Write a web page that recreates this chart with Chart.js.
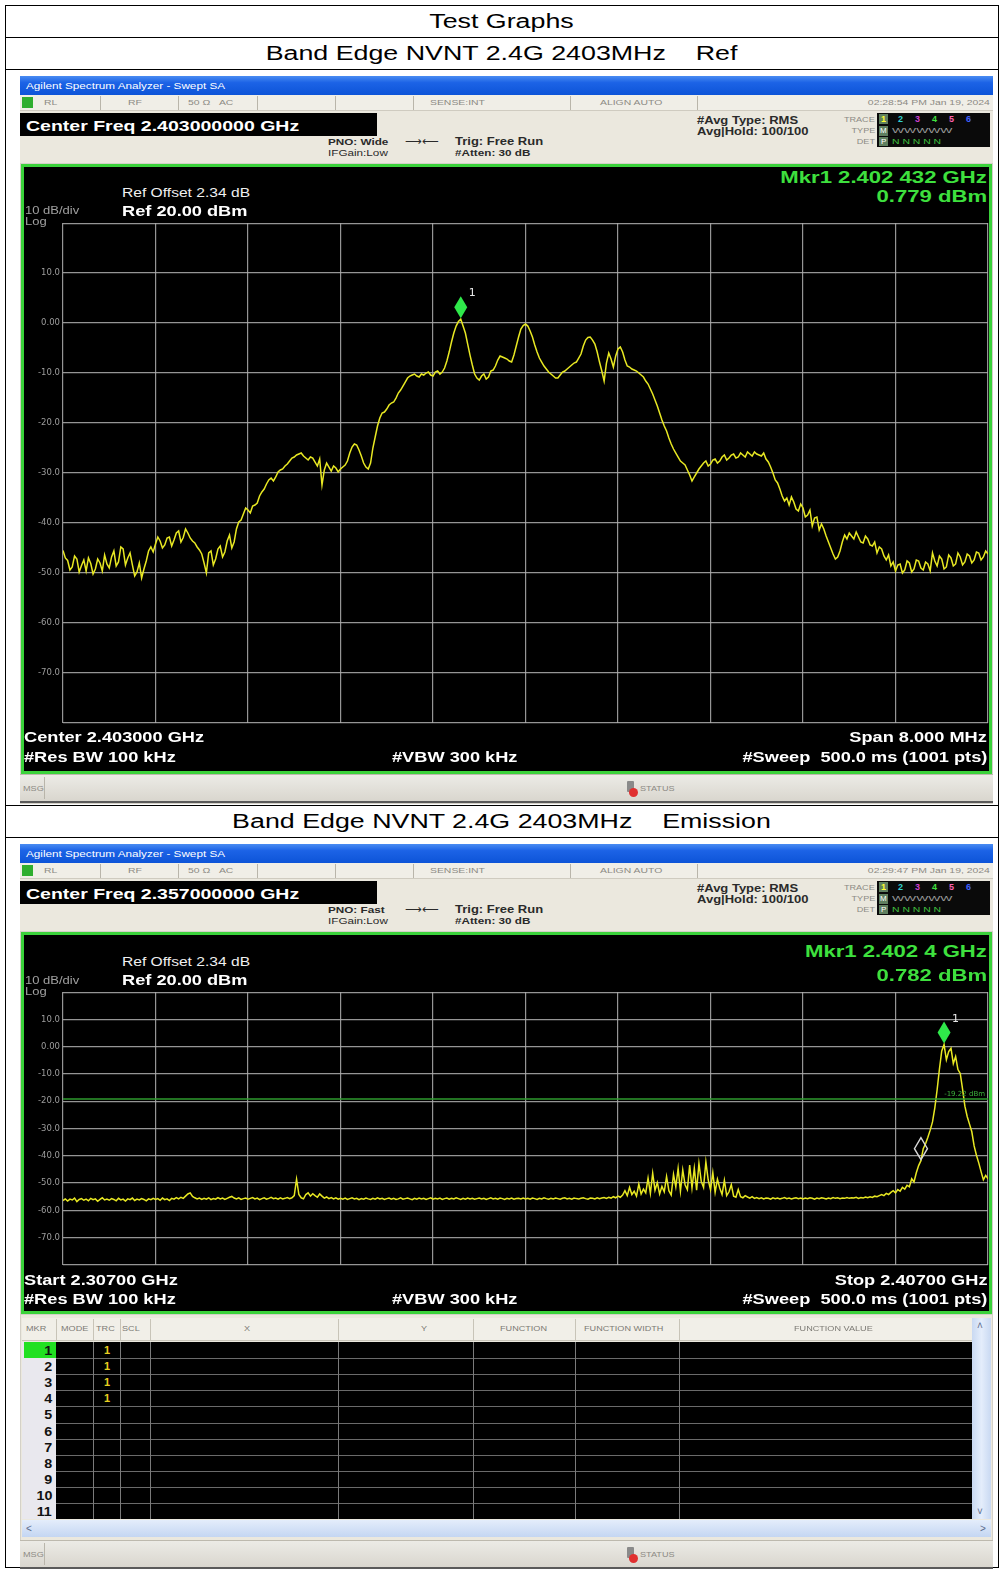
<!DOCTYPE html>
<html>
<head>
<meta charset="utf-8">
<title>Band Edge NVNT 2.4G 2403MHz</title>
<script src="https://cdn.jsdelivr.net/npm/chart.js@4.4.0/dist/chart.umd.min.js"></script>
<style>
  html, body { margin: 0; padding: 0; background: #fff; }
  #page { position: relative; width: 1003px; height: 1569px; overflow: hidden;
          font-family: 'Liberation Sans', Arial, sans-serif; }
  .t { position: absolute; white-space: pre; line-height: 1;
       transform: translateY(-50%) scaleX(var(--sx, 1.3)); transform-origin: left center; }
  .t.r { transform-origin: right center; }
  .t.c { left: 0; width: 1003px; text-align: center; transform-origin: center center; }
</style>
</head>
<body>
<div id="page"></div>
<script>
// ── Data ──────────────────────────────────────────────────────────────────────

// Ref sweep: 2399–2407 MHz, trace 1 (dBm)
const REF_START_MHZ = 2399;
const REF_STOP_MHZ = 2407;
const REF_LEVELS = [
  -45.5, -47.0, -47.5, -49.4, -48.8, -46.6, -47.2, -49.8, -48.5, -47.4, -49.6, -47.0, -48.1, -50.2, -49.2, -47.2, -48.0, -49.6, -46.4, -48.2,
  -49.0, -46.8, -45.6, -48.6, -47.8, -44.8, -45.2, -48.4, -47.0, -46.0, -48.4, -50.6, -49.8, -48.0, -51.0, -49.2, -47.6, -45.6, -44.8, -45.8,
  -44.2, -42.8, -43.6, -45.0, -44.4, -43.0, -42.8, -44.6, -43.4, -42.0, -41.6, -43.8, -42.9, -41.2, -42.0, -43.0, -43.6, -44.0, -44.8, -45.4,
  -46.2, -48.0, -50.0, -46.0, -45.6, -48.4, -47.2, -45.2, -44.6, -46.8, -45.8, -43.6, -42.4, -45.0, -43.8, -41.2, -39.8, -39.4, -38.2, -37.0,
  -37.4, -38.0, -36.6, -36.4, -36.0, -34.6, -33.8, -33.2, -32.2, -31.4, -31.0, -31.6, -30.8, -29.8, -29.4, -29.2, -28.6, -28.2, -27.6, -27.0,
  -26.8, -26.4, -26.2, -26.0, -26.6, -27.0, -27.4, -26.8, -27.0, -27.8, -28.6, -27.2, -32.4, -29.4, -28.0, -28.8, -29.6, -28.6, -29.0, -29.8,
  -29.2, -28.8, -28.4, -27.6, -26.0, -24.8, -24.2, -24.4, -25.4, -26.6, -28.0, -28.8, -29.2, -28.0, -25.0, -22.8, -20.6, -19.0, -18.0, -17.8,
  -17.2, -16.4, -16.0, -15.8, -15.0, -14.0, -13.4, -12.6, -11.8, -11.0, -10.6, -10.4, -10.2, -10.6, -10.8, -10.2, -10.4, -10.0, -9.8, -10.4,
  -10.6, -9.8, -9.6, -10.2, -9.8, -9.0, -7.6, -5.8, -3.8, -2.0, -0.6, 0.3, 0.779, -0.6, -2.0, -4.2, -6.4, -8.4, -10.2, -11.0,
  -11.4, -10.6, -10.2, -11.2, -10.8, -9.6, -9.4, -8.6, -7.4, -6.6, -6.8, -7.0, -7.2, -7.6, -7.8, -6.4, -4.6, -2.8, -1.2, -0.5,
  -0.2, -0.6, -1.6, -2.8, -4.4, -5.8, -7.0, -7.8, -8.6, -9.2, -9.8, -10.2, -10.6, -11.0, -11.0, -10.4, -9.8, -9.6, -9.2, -8.8,
  -8.4, -8.0, -7.8, -7.0, -6.2, -4.6, -3.4, -2.9, -2.8, -3.4, -4.2, -5.8, -7.8, -9.6, -11.6, -8.0, -6.0, -7.2, -8.8, -6.6,
  -5.2, -4.8, -5.8, -7.4, -8.6, -8.8, -9.2, -9.4, -9.6, -10.0, -10.4, -10.8, -11.6, -12.2, -13.2, -14.2, -15.4, -16.6, -18.0, -19.4,
  -20.6, -21.6, -23.0, -24.2, -25.2, -26.0, -26.8, -27.6, -28.0, -28.4, -29.4, -30.4, -31.6, -30.8, -30.0, -29.2, -28.6, -28.0, -27.6, -28.6,
  -28.2, -27.4, -27.2, -28.0, -27.6, -26.8, -26.4, -27.4, -27.0, -26.4, -26.2, -27.0, -26.8, -26.0, -26.4, -26.8, -25.8, -26.2, -26.6, -25.8,
  -26.2, -26.4, -26.6, -26.0, -27.2, -27.8, -28.8, -30.0, -31.4, -32.0, -33.2, -34.6, -35.6, -35.0, -36.4, -34.8, -35.8, -37.2, -37.6, -36.2,
  -37.0, -38.8, -38.4, -37.4, -40.6, -39.0, -38.8, -41.4, -40.2, -41.2, -42.6, -43.8, -45.0, -46.2, -47.2, -46.8, -45.6, -43.8, -42.4, -43.2,
  -42.0, -42.6, -43.2, -41.8, -42.8, -43.8, -44.0, -42.6, -43.2, -44.4, -44.6, -43.8, -46.0, -44.8, -45.2, -46.6, -47.4, -46.4, -48.6, -47.8,
  -49.6, -48.4, -48.2, -50.0, -49.4, -47.6, -48.0, -49.8, -49.2, -47.4, -47.6, -49.0, -49.4, -47.8, -48.2, -49.6, -46.0, -47.6, -48.6, -46.6,
  -47.2, -49.2, -48.8, -46.4, -47.0, -48.6, -48.2, -46.0, -46.8, -48.4, -47.8, -46.2, -46.6, -48.0, -47.4, -45.8, -46.0, -47.4, -46.8, -45.6,
  -46.2,
];
const REF_MARKER_IDX = [172];

// Emission sweep: 2307–2407 MHz, trace 1 (dBm)
const EMIS_START_MHZ = 2307;
const EMIS_STOP_MHZ = 2407;
const EMIS_LEVELS = [
  -56.4, -55.8, -56.6, -55.9, -56.2, -55.5, -56.8, -56.0, -55.7, -56.3, -55.9, -56.5, -55.6, -56.1, -55.8, -56.7, -56.0, -55.4, -56.2, -55.9,
  -56.3, -55.7, -56.0, -56.5, -55.6, -56.2, -55.9, -56.6, -55.8, -56.1, -55.5, -56.4, -55.9, -56.2, -55.7, -56.0, -56.5, -55.8, -56.1, -55.6,
  -56.0, -55.7, -56.3, -55.5, -56.1, -55.8, -56.4, -55.6, -55.9, -55.3, -55.8, -55.2, -55.6, -54.8, -54.0, -53.6, -54.9, -55.4, -55.8, -55.5,
  -56.0, -55.6, -55.9, -55.4, -56.1, -55.7, -55.9, -55.3, -55.8, -55.5, -56.0, -55.6, -55.2, -54.9, -55.5, -55.8, -55.4, -56.0, -55.7, -55.5,
  -55.9, -55.6, -55.3, -55.8, -55.5, -56.1, -55.7, -55.4, -55.9, -55.6, -55.2, -55.7, -55.5, -55.9, -55.4, -55.8, -55.6, -55.3, -55.7, -55.4,
  -54.6, -48.6, -54.2, -55.4, -55.8, -54.2, -53.6, -54.8, -53.9, -54.6, -55.2, -54.0, -54.8, -55.5, -55.1, -55.7, -55.3, -55.8, -55.4, -55.9,
  -55.6, -55.9, -55.5, -56.0, -55.7, -55.4, -55.8, -55.6, -56.1, -55.7, -55.9, -55.5, -55.8, -56.0, -55.6, -55.9, -55.4, -55.8, -55.6, -56.0,
  -55.7, -55.5, -55.9, -55.6, -56.0, -55.8, -55.4, -55.9, -55.7, -55.5, -55.8, -56.1, -55.6, -55.9, -55.5, -55.8, -55.6, -56.0, -55.7, -55.4,
  -55.9, -55.6, -55.8, -55.5, -56.0, -55.7, -55.5, -55.9, -55.6, -55.8, -55.4, -55.7, -56.0, -55.6, -55.9, -55.5, -55.8, -55.6, -55.9, -55.7,
  -55.5, -55.8, -55.6, -56.0, -55.7, -55.4, -55.8, -55.6, -55.9, -55.5, -55.7, -56.0, -55.6, -55.8, -55.5, -55.9, -55.7, -55.6, -55.8, -55.5,
  -55.8, -55.6, -55.9, -55.5, -55.7, -56.0, -55.6, -55.8, -55.4, -55.7, -55.9, -55.6, -55.8, -55.5, -55.7, -55.9, -55.6, -55.4, -55.8, -55.6,
  -55.9, -55.5, -55.7, -55.8, -55.6, -55.4, -55.7, -55.9, -55.5, -55.6, -55.8, -55.4, -55.7, -55.5, -55.3, -55.6, -55.2, -55.5, -55.0, -55.4,
  -54.8, -55.2, -54.4, -52.8, -54.6, -51.6, -54.2, -53.0, -54.8, -50.4, -54.0, -52.2, -53.6, -48.2, -53.8, -46.4, -52.6, -49.8, -54.0, -51.2,
  -53.2, -47.6, -52.8, -54.4, -46.8, -51.4, -44.6, -53.0, -45.2, -50.6, -52.4, -43.4, -51.8, -44.6, -52.6, -42.8, -49.4, -51.6, -42.2, -48.8,
  -52.4, -46.2, -53.4, -48.6, -51.8, -54.2, -49.0, -54.6, -53.2, -50.6, -54.8, -55.2, -52.4, -55.0, -55.4, -54.6, -55.1, -55.5, -55.0, -55.6,
  -55.3, -55.7, -55.4, -55.8, -55.5, -55.6, -55.9, -55.4, -55.7, -55.5, -55.8, -55.6, -55.3, -55.7, -55.5, -55.8, -55.6, -55.4, -55.7, -55.5,
  -55.8, -55.5, -55.7, -55.4, -55.6, -55.9, -55.5, -55.7, -55.4, -55.6, -55.8, -55.5, -55.7, -55.3, -55.6, -55.4, -55.7, -55.5, -55.6, -55.3,
  -55.6, -55.4, -55.5, -55.2, -55.6, -55.3, -55.5, -55.1, -55.4, -55.0, -55.3, -54.8, -55.0, -54.6, -54.2, -54.6, -53.8, -54.2, -53.4, -52.8,
  -53.6, -52.4, -53.0, -51.6, -52.2, -50.8, -51.4, -48.4, -49.6, -46.2, -43.6, -41.8, -37.4, -35.6, -33.2, -30.6, -27.6, -22.4, -15.8, -8.2,
  -1.6, 0.782, -4.8, -1.8, -0.6, -6.2, -3.6, -8.4, -9.8, -15.6, -21.8, -25.6, -28.4, -31.2, -36.4, -39.8, -42.6, -45.8, -48.8, -47.2, -48.4,
];
const EMIS_MARKER_IDX = [381, 371];
const EMIS_DISPLAY_LINE = -19.22;

// Amplitude axis (Ref 20 dBm, 10 dB/div)
const Y_TICKS = [-80, -70, -60, -50, -40, -30, -20, -10, 0, 10, 20];
const Y_TICK_LABELS = ['', '-70.0', '-60.0', '-50.0', '-40.0', '-30.0', '-20.0', '-10.0', '0.00', '10.0', ''];
const X_DIVS = 10;

// Marker table rows
const MKR_ROWS = ['1', '2', '3', '4', '5', '6', '7', '8', '9', '10', '11'];
const MKR_TRACE = ['1', '1', '1', '1', '', '', '', '', '', '', ''];

// ── Helpers ───────────────────────────────────────────────────────────────────

const page = document.getElementById('page');
const W = 1003;

function box(x, y, w, h, css) {
  const d = document.createElement('div');
  d.style.cssText = `position:absolute;left:${x}px;top:${y}px;width:${w}px;height:${h}px;box-sizing:border-box;` + (css || '');
  page.appendChild(d);
  return d;
}

function text(str, x, cy, size, color, o = {}) {
  const d = document.createElement('div');
  d.className = 't' + (o.align === 'right' ? ' r' : o.align === 'center' ? ' c' : '');
  d.textContent = str;
  d.style.fontSize = size + 'px';
  d.style.color = color;
  d.style.top = cy + 'px';
  if (o.bold) d.style.fontWeight = 'bold';
  if (o.family) d.style.fontFamily = o.family;
  if (o.align === 'right') d.style.right = (W - x) + 'px';
  else if (o.align !== 'center') d.style.left = x + 'px';
  if (o.sx) d.style.setProperty('--sx', o.sx);
  page.appendChild(d);
  return d;
}

function sweepPoints(levels, start, stop) {
  const step = (stop - start) / (levels.length - 1);
  return levels.map((v, i) => ({ x: start + i * step, y: v }));
}

// ── Table frame ───────────────────────────────────────────────────────────────

const LINE = 'background:#000;';
box(5, 5, 994, 1, LINE);
box(5, 37, 994, 1, LINE);
box(5, 69, 994, 1, LINE);
box(5, 805, 994, 1, LINE);
box(5, 837, 994, 1, LINE);
box(5, 1567, 994, 1, LINE);
box(5, 5, 1, 1563, LINE);
box(998, 5, 1, 1563, LINE);

text('Test Graphs', 0, 21, 20, '#000', { align: 'center', sx: 1.34 });
text('Band Edge NVNT 2.4G 2403MHz    Ref', 0, 53, 20, '#000', { align: 'center', sx: 1.34 });
text('Band Edge NVNT 2.4G 2403MHz    Emission', 0, 821, 20, '#000', { align: 'center', sx: 1.34 });

// ── Analyzer chrome ───────────────────────────────────────────────────────────

const GRAY_TXT = '#8c8a84';
const DARK_TXT = '#2a2a2a';
const GREEN = '#3ee03e';

function header(T, cf, pno, time) {
  box(20, T, 973, 19, 'background:linear-gradient(#4a8cf2,#1c63e6 35%,#0d54d8);');
  text('Agilent Spectrum Analyzer - Swept SA', 26, T + 10, 9, '#fff');

  box(20, T + 19, 973, 70, 'background:#ebe8de;');
  box(20, T + 19, 973, 16, 'background:#f0eee7;border-bottom:1px solid #cfcbc0;');
  box(22, T + 21, 11, 11, 'background:#2fae2f;');
  [100, 178, 257, 335, 413, 570, 697].forEach(x => box(x, T + 20, 1, 14, 'background:#b9b5aa;'));
  text('RL', 44, T + 27, 8, GRAY_TXT);
  text('RF', 128, T + 27, 8, GRAY_TXT);
  text('50 Ω   AC', 188, T + 27, 8, GRAY_TXT);
  text('SENSE:INT', 430, T + 27, 8, GRAY_TXT);
  text('ALIGN AUTO', 600, T + 27, 8, GRAY_TXT);
  text(time, 990, T + 27, 8, GRAY_TXT, { align: 'right' });

  box(20, T + 37, 357, 23, 'background:#000;');
  text(cf, 26, T + 49, 15, '#fff', { bold: true });

  text(pno, 328, T + 66, 9, DARK_TXT, { bold: true });
  text('IFGain:Low', 328, T + 77, 9, DARK_TXT);
  text('⟶⟵', 405, T + 65, 9, DARK_TXT);
  text('Trig: Free Run', 455, T + 66, 10, DARK_TXT, { bold: true });
  text('#Atten: 30 dB', 455, T + 77, 9, DARK_TXT, { bold: true });
  text('#Avg Type: RMS', 697, T + 45, 10, DARK_TXT, { bold: true });
  text('Avg|Hold: 100/100', 697, T + 56, 10, DARK_TXT, { bold: true });

  text('TRACE', 875, T + 43, 7, GRAY_TXT, { align: 'right' });
  text('TYPE', 875, T + 54, 7, GRAY_TXT, { align: 'right' });
  text('DET', 875, T + 65, 7, GRAY_TXT, { align: 'right' });
  box(877, T + 37, 113, 34, 'background:#0a0a0a;');
  box(879, T + 38, 9, 10, 'background:#5f7f5f;');
  const cols = ['#ffff30', '#30d0d0', '#d040d0', '#40e040', '#ff60b0', '#4060ff'];
  cols.forEach((c, i) => text(String(i + 1), 881 + i * 17, T + 43, 9, c, { bold: true, sx: 1 }));
  box(879, T + 50, 9, 10, 'background:#5f7f5f;');
  text('M', 880, T + 55, 8, '#fff', { sx: 1 });
  text('WWWWW', 892, T + 55, 8, '#9a9a9a', { sx: 1.6 });
  box(879, T + 61, 9, 9, 'background:#5f7f5f;');
  text('P', 881, T + 66, 8, '#fff', { sx: 1 });
  text('N N N N N', 892, T + 66, 8, '#40c040', { sx: 1.3 });
}

function statusBar(y) {
  box(20, y, 973, 29, 'background:linear-gradient(#ecebe6,#d9d6ce);border-top:1px solid #bdb9ae;border-bottom:2px solid #5a5a5a;');
  box(44, y + 3, 1, 22, 'background:#b9b5aa;');
  text('MSG', 23, y + 14, 7, GRAY_TXT);
  box(627, y + 7, 7, 11, 'background:#8a8a8a;border-radius:1px;');
  box(629, y + 14, 9, 9, 'background:#e03030;border-radius:50%;');
  text('STATUS', 640, y + 14, 7, GRAY_TXT);
}

function graphFrame(top, height) {
  box(20, top - 1, 973, height + 2, 'background:#d4d1c8;');
  box(21, top, 971, height, 'background:#000;border:3px solid #3bd23b;');
}

// ── Charts ────────────────────────────────────────────────────────────────────

const markerPlugin = {
  id: 'markers',
  afterDatasetsDraw(chart, args, opts) {
    const { ctx, scales: { x, y }, chartArea } = chart;
    (opts.list || []).forEach(m => {
      const px = x.getPixelForValue(m.x);
      const py = y.getPixelForValue(m.y) - 1;
      ctx.save();
      ctx.beginPath();
      ctx.moveTo(px, py);
      ctx.lineTo(px + 6.5, py - 11);
      ctx.lineTo(px, py - 22);
      ctx.lineTo(px - 6.5, py - 11);
      ctx.closePath();
      if (m.open) {
        ctx.strokeStyle = '#d8d8d8';
        ctx.lineWidth = 1.4;
        ctx.stroke();
      } else {
        ctx.fillStyle = '#2fe84a';
        ctx.fill();
      }
      if (m.label) {
        ctx.fillStyle = '#e8e8e8';
        ctx.font = '11px "DejaVu Sans"';
        ctx.fillText(m.label, px + 8, py - 22);
      }
      ctx.restore();
    });
    if (opts.lineLabel) {
      const py = y.getPixelForValue(opts.lineLabel.y);
      ctx.save();
      ctx.fillStyle = '#3cb03c';
      ctx.font = '7px "DejaVu Sans"';
      ctx.textAlign = 'right';
      ctx.fillText(opts.lineLabel.text, chartArea.right - 3, py - 3);
      ctx.restore();
    }
  },
};

function makeChart(x, y, w, h, datasets, xMin, xMax, markers, lineLabel) {
  const c = document.createElement('canvas');
  c.width = w; c.height = h;
  c.style.cssText = `position:absolute;left:${x}px;top:${y}px;width:${w}px;height:${h}px;`;
  page.appendChild(c);
  const xStep = (xMax - xMin) / X_DIVS;
  return new Chart(c, {
    type: 'line',
    data: { datasets },
    plugins: [markerPlugin],
    options: {
      responsive: false,
      animation: false,
      events: [],
      layout: { padding: { top: 8, bottom: 8, right: 2, left: 0 } },
      plugins: {
        legend: { display: false },
        tooltip: { enabled: false },
        markers: { list: markers, lineLabel },
      },
      scales: {
        x: {
          type: 'linear',
          min: xMin,
          max: xMax,
          afterBuildTicks: s => { s.ticks = Array.from({ length: X_DIVS + 1 }, (_, i) => ({ value: xMin + i * xStep })); },
          afterFit: s => { s.height = 0; },
          ticks: { display: false },
          grid: { color: 'rgba(175,175,175,0.85)', lineWidth: 1.2, drawTicks: false },
          border: { display: false },
        },
        y: {
          min: -80,
          max: 20,
          afterBuildTicks: s => { s.ticks = Y_TICKS.map(v => ({ value: v })); },
          afterFit: s => { s.width = 40; },
          ticks: {
            color: '#9c9c9c',
            font: { family: 'DejaVu Sans', size: 8.5 },
            padding: 3,
            callback: v => Y_TICK_LABELS[Y_TICKS.indexOf(v)],
          },
          grid: { color: 'rgba(175,175,175,0.85)', lineWidth: 1.2, drawTicks: false },
          border: { display: false },
        },
      },
    },
  });
}

function traceSet(points) {
  return { data: points, borderColor: '#e8e823', borderWidth: 1.5, pointRadius: 0, tension: 0 };
}

// ── Screenshot 1: Ref ─────────────────────────────────────────────────────────

box(20, 76, 973, 728, 'background:#d4d1c8;');
header(76, 'Center Freq 2.403000000 GHz', 'PNO: Wide', '02:28:54 PM Jan 19, 2024');
graphFrame(164, 610);

const refPts = sweepPoints(REF_LEVELS, REF_START_MHZ, REF_STOP_MHZ);
makeChart(23, 215, 967, 516, [traceSet(refPts)], REF_START_MHZ, REF_STOP_MHZ,
  REF_MARKER_IDX.map((idx, k) => ({ x: refPts[idx].x, y: refPts[idx].y, label: String(k + 1) })));

text('Mkr1 2.402 432 GHz', 987, 177, 17, GREEN, { bold: true, align: 'right' });
text('0.779 dBm', 987, 196, 17, GREEN, { bold: true, align: 'right' });
text('Ref Offset 2.34 dB', 122, 193, 12, '#f0f0f0');
text('Ref 20.00 dBm', 122, 211, 14, '#fff', { bold: true });
text('10 dB/div', 25, 211, 10, '#a0a0a0');
text('Log', 25, 222, 10, '#a0a0a0');
text('Center 2.403000 GHz', 24, 737, 14, '#fff', { bold: true });
text('Span 8.000 MHz', 987, 737, 14, '#fff', { bold: true, align: 'right' });
text('#Res BW 100 kHz', 24, 757, 14, '#fff', { bold: true });
text('#VBW 300 kHz', 392, 757, 14, '#fff', { bold: true });
text('#Sweep  500.0 ms (1001 pts)', 987, 757, 14, '#fff', { bold: true, align: 'right' });
statusBar(774);

// ── Screenshot 2: Emission ────────────────────────────────────────────────────

box(20, 844, 973, 723, 'background:#d4d1c8;');
header(844, 'Center Freq 2.357000000 GHz', 'PNO: Fast', '02:29:47 PM Jan 19, 2024');
graphFrame(932, 382);

const emisPts = sweepPoints(EMIS_LEVELS, EMIS_START_MHZ, EMIS_STOP_MHZ);
const displayLine = {
  data: [{ x: EMIS_START_MHZ, y: EMIS_DISPLAY_LINE }, { x: EMIS_STOP_MHZ, y: EMIS_DISPLAY_LINE }],
  borderColor: '#2e9a2e', borderWidth: 1.5, pointRadius: 0,
};
makeChart(23, 984, 967, 289, [displayLine, traceSet(emisPts)], EMIS_START_MHZ, EMIS_STOP_MHZ,
  EMIS_MARKER_IDX.map((idx, k) => ({ x: emisPts[idx].x, y: emisPts[idx].y, label: k === 0 ? '1' : '', open: k > 0 })),
  { y: EMIS_DISPLAY_LINE, text: EMIS_DISPLAY_LINE.toFixed(2) + ' dBm' });

text('Mkr1 2.402 4 GHz', 987, 951, 17, GREEN, { bold: true, align: 'right' });
text('0.782 dBm', 987, 975, 17, GREEN, { bold: true, align: 'right' });
text('Ref Offset 2.34 dB', 122, 962, 12, '#f0f0f0');
text('Ref 20.00 dBm', 122, 980, 14, '#fff', { bold: true });
text('10 dB/div', 25, 981, 10, '#a0a0a0');
text('Log', 25, 992, 10, '#a0a0a0');
text('Start 2.30700 GHz', 24, 1280, 14, '#fff', { bold: true });
text('Stop 2.40700 GHz', 987, 1280, 14, '#fff', { bold: true, align: 'right' });
text('#Res BW 100 kHz', 24, 1299, 14, '#fff', { bold: true });
text('#VBW 300 kHz', 392, 1299, 14, '#fff', { bold: true });
text('#Sweep  500.0 ms (1001 pts)', 987, 1299, 14, '#fff', { bold: true, align: 'right' });

// marker table
box(21, 1315, 971, 226, 'background:#ebe8de;');
box(22, 1318, 950, 23, 'background:#f1efe8;border-bottom:1px solid #c8c4b8;');
const HDR = [['MKR', 26], ['MODE', 61], ['TRC', 96], ['SCL', 122], ['X', 244], ['Y', 421],
             ['FUNCTION', 500], ['FUNCTION WIDTH', 584], ['FUNCTION VALUE', 794]];
HDR.forEach(([s, x]) => text(s, x, 1328, 7, '#7c7a74'));
const COLS = [56, 93, 120, 150, 338, 473, 575, 679];
COLS.forEach(x => box(x, 1319, 1, 21, 'background:#c8c4b8;'));
box(22, 1342, 34, 177, 'background:#e9e8ee;');
box(56, 1342, 916, 177, 'background:#000;');
box(24, 1342, 32, 16, 'background:#22e022;');
const ROW_H = 16.1;
MKR_ROWS.forEach((s, i) => {
  const cy = 1350 + i * ROW_H;
  if (i > 0) box(56, Math.round(1342 + i * ROW_H), 916, 1, 'background:#6a6a6a;');
  text(s, 52, cy, 13, '#111', { bold: true, align: 'right', sx: 1.1 });
  if (MKR_TRACE[i]) text(MKR_TRACE[i], 104, cy, 11, '#e8d020', { bold: true, sx: 1 });
});
COLS.slice(1).forEach(x => box(x, 1342, 1, 177, 'background:#7a7a7a;'));
box(972, 1318, 19, 201, 'background:linear-gradient(90deg,#c9d9f2,#e4edfb,#c9d9f2);');
text('˄', 977, 1326, 10, '#5a6a8a', { sx: 1 });
text('˅', 977, 1512, 10, '#5a6a8a', { sx: 1 });
box(22, 1520, 969, 17, 'background:linear-gradient(#e4edfb,#c4d6f2);');
text('<', 26, 1529, 10, '#5a6a8a', { sx: 1 });
text('>', 980, 1529, 10, '#5a6a8a', { sx: 1 });
statusBar(1540);
</script>
</body>
</html>
